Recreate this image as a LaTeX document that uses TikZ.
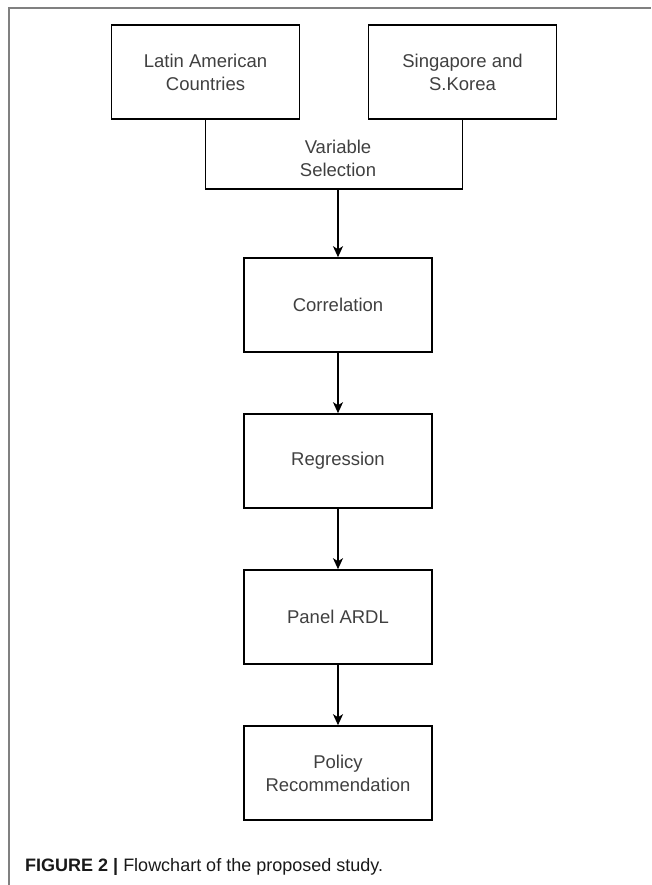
\documentclass[tikz,border=0pt]{standalone}
\usepackage{fontspec}
\setmainfont{Liberation Sans}
\usetikzlibrary{arrows.meta}
\begin{document}
\begin{tikzpicture}[x=1pt,y=-1pt,
  stepbox/.style={draw=black,line width=1.6pt,minimum width=188pt,minimum height=94pt,inner sep=0pt,align=center,text=black!75,font=\fontsize{18.5}{23}\selectfont},
  freetext/.style={inner sep=0pt,align=center,text=black!75,font=\fontsize{18.5}{23}\selectfont},
  link/.style={line width=1.5pt,draw=black},
  arr/.style={link,-{Stealth[length=11pt,width=10pt,inset=3pt]}},
  frame/.style={draw=black!50,line width=1.4pt}]
\useasboundingbox (0,0) rectangle (651,885);
\draw[frame] (9,885) -- (9,8) -- (651,8);
\node[stepbox] (lat) at (205.5,72) {Latin American\\Countries};
\node[stepbox] (sg) at (462.5,72) {Singapore and\\S.Korea};
\node[freetext] (var) at (338,158.5) {Variable\\Selection};
\coordinate (j) at (338,189);
\node[stepbox] (cor) at (338,305) {Correlation};
\node[stepbox] (reg) at (338,461) {Regression};
\node[stepbox] (ard) at (338,617) {Panel ARDL};
\node[stepbox] (pol) at (338,773) {Policy\\Recommendation};
\draw[link] (lat.south) |- (j) -| (sg.south);
\draw[arr] (j) -- (cor.north);
\draw[arr] (cor.south) -- (reg.north);
\draw[arr] (reg.south) -- (ard.north);
\draw[arr] (ard.south) -- (pol.north);
\node[anchor=base west,inner sep=0pt,font=\fontsize{18}{22}\selectfont,text=black!90] (cap) at (25,871) {\textbf{FIGURE 2 |} Flowchart of the proposed study.};
\end{tikzpicture}
\end{document}
